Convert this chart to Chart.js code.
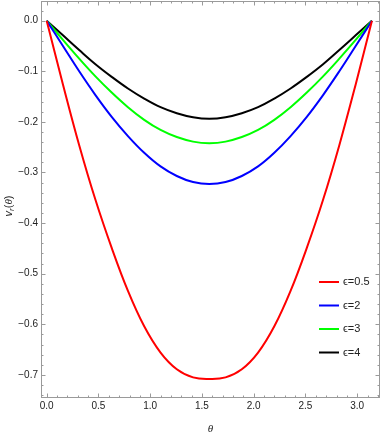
<!DOCTYPE html>
<html>
<head>
<meta charset="utf-8">
<script src="https://cdn.jsdelivr.net/npm/chart.js@4"></script>
<style>
  html, body { margin: 0; padding: 0; background: #fff; }
  #wrap { width: 382px; height: 436px; }
</style>
</head>
<body>
<div id="wrap"><canvas id="vrChart" width="382" height="436"></canvas></div>
<script>
// theta sample positions
const theta = [0, 0.157, 0.314, 0.471, 0.628, 0.785, 0.942, 1.100, 1.257, 1.414, 1.571,
  1.728, 1.885, 2.042, 2.199, 2.356, 2.513, 2.670, 2.827, 2.985, 3.142];

const eps05 = [0, -0.126, -0.246, -0.354, -0.449, -0.534, -0.604, -0.656, -0.689, -0.705, -0.708,
  -0.705, -0.689, -0.656, -0.604, -0.534, -0.449, -0.354, -0.246, -0.126, 0];
const eps2 = [0, -0.050, -0.100, -0.147, -0.190, -0.228, -0.261, -0.288, -0.307, -0.319, -0.323,
  -0.319, -0.307, -0.288, -0.261, -0.228, -0.190, -0.147, -0.100, -0.050, 0];
const eps3 = [0, -0.038, -0.075, -0.110, -0.142, -0.171, -0.196, -0.216, -0.230, -0.239, -0.242,
  -0.239, -0.230, -0.216, -0.196, -0.171, -0.142, -0.110, -0.075, -0.038, 0];
const eps4 = [0, -0.029, -0.058, -0.086, -0.111, -0.134, -0.154, -0.171, -0.183, -0.191, -0.194,
  -0.191, -0.183, -0.171, -0.154, -0.134, -0.111, -0.086, -0.058, -0.029, 0];

const seriesLabels = ['\u03f5=0.5', '\u03f5=2', '\u03f5=3', '\u03f5=4'];
const seriesColors = ['#ff0000', '#0000ff', '#00ff00', '#000000'];

// tick values and labels
const xTicks = [0, 0.5, 1.0, 1.5, 2.0, 2.5, 3.0];
const xTickLabels = ['0.0', '0.5', '1.0', '1.5', '2.0', '2.5', '3.0'];
const yTicks = [0, -0.1, -0.2, -0.3, -0.4, -0.5, -0.6, -0.7];
const yTickLabels = ['0.0', '\u22120.1', '\u22120.2', '\u22120.3', '\u22120.4', '\u22120.5', '\u22120.6', '\u22120.7'];

const frameColor = '#9a9a9a';
const labelFont = "10px 'Liberation Sans', Arial, sans-serif";

function pts(vals) {
    return theta.map((t, i) => ({ x: t, y: vals[i] }));
}

// frame, inward ticks, tick labels, axis titles and legend
const framePlugin = {
    id: 'mmaFrame',
    afterDraw(chart) {
        const { ctx, chartArea: a, scales: { x, y } } = chart;
        ctx.save();
        ctx.strokeStyle = frameColor;
        ctx.lineWidth = 1;
        ctx.strokeRect(a.left + 0.5, a.top + 0.5, a.right - a.left - 1, a.bottom - a.top - 1);

        ctx.beginPath();
        for (let k = 0; k <= 32; k++) {
            const v = k / 10;
            const px = Math.round(x.getPixelForValue(v)) + 0.5;
            const len = (k % 5 === 0) ? 4.5 : 2.5;
            ctx.moveTo(px, a.bottom); ctx.lineTo(px, a.bottom - len);
            ctx.moveTo(px, a.top); ctx.lineTo(px, a.top + len);
        }
        for (let k = -2; k <= 37; k++) {
            const v = -k / 50;
            const py = Math.round(y.getPixelForValue(v)) + 0.5;
            if (py < a.top || py > a.bottom) continue;
            const len = (k % 5 === 0) ? 4.5 : 2.5;
            ctx.moveTo(a.left, py); ctx.lineTo(a.left + len, py);
            ctx.moveTo(a.right, py); ctx.lineTo(a.right - len, py);
        }
        ctx.stroke();

        ctx.fillStyle = '#222';
        ctx.font = labelFont;
        ctx.textAlign = 'center';
        ctx.textBaseline = 'middle';
        xTicks.forEach((v, i) => ctx.fillText(xTickLabels[i], x.getPixelForValue(v), a.bottom + 8));
        ctx.textAlign = 'right';
        yTicks.forEach((v, i) => ctx.fillText(yTickLabels[i], a.left - 3, y.getPixelForValue(v)));

        // axis titles
        ctx.font = "italic 11px 'Liberation Serif', 'DejaVu Serif', serif";
        ctx.textAlign = 'center';
        ctx.fillText('\u03b8', (a.left + a.right) / 2, 429);

        ctx.save();
        ctx.translate(9, 206);
        ctx.rotate(-Math.PI / 2);
        ctx.textAlign = 'left';
        ctx.font = "italic 11px 'Liberation Sans', Arial, sans-serif";
        const w1 = ctx.measureText('v').width;
        ctx.font = "italic 8px 'Liberation Sans', Arial, sans-serif";
        const w2 = ctx.measureText('r').width;
        ctx.font = "11px 'Liberation Sans', Arial, sans-serif";
        const w3 = ctx.measureText('(').width;
        ctx.font = "italic 11px 'Liberation Serif', serif";
        const w4 = ctx.measureText('\u03b8').width;
        const total = w1 + w2 + w3 * 2 + w4;
        let cx = -total / 2;
        ctx.font = "italic 11px 'Liberation Sans', Arial, sans-serif";
        ctx.fillText('v', cx, 0); cx += w1;
        ctx.font = "italic 8px 'Liberation Sans', Arial, sans-serif";
        ctx.fillText('r', cx, 3); cx += w2;
        ctx.font = "11px 'Liberation Sans', Arial, sans-serif";
        ctx.fillText('(', cx, 0); cx += w3;
        ctx.font = "italic 11px 'Liberation Serif', serif";
        ctx.fillText('\u03b8', cx, 0); cx += w4;
        ctx.font = "11px 'Liberation Sans', Arial, sans-serif";
        ctx.fillText(')', cx, 0);
        ctx.restore();

        // legend inside plot
        ctx.font = "11px 'Liberation Sans', Arial, sans-serif";
        ctx.textAlign = 'left';
        chart.data.datasets.forEach((ds, i) => {
            const ly = 282 + i * 23.5;
            ctx.strokeStyle = ds.borderColor;
            ctx.lineWidth = 2;
            ctx.beginPath();
            ctx.moveTo(319, ly); ctx.lineTo(339, ly);
            ctx.stroke();
            ctx.fillStyle = '#222';
            ctx.fillText(ds.label, 343, ly);
        });
        ctx.restore();
    }
};

new Chart(document.getElementById('vrChart'), {
    type: 'line',
    data: {
        datasets: [eps05, eps2, eps3, eps4].map((vals, i) => ({
            label: seriesLabels[i],
            data: pts(vals),
            borderColor: seriesColors[i],
            borderWidth: 2,
            pointRadius: 0,
            fill: false,
            tension: 0.4
        }))
    },
    options: {
        responsive: false,
        animation: false,
        layout: { padding: { left: 41, right: 2, top: 1, bottom: 38 } },
        plugins: { legend: { display: false }, tooltip: { enabled: false } },
        scales: {
            x: { type: 'linear', min: -0.055, max: 3.220, display: false },
            y: { type: 'linear', min: -0.7457, max: 0.0389, display: false }
        }
    },
    plugins: [framePlugin]
});
</script>
</body>
</html>
